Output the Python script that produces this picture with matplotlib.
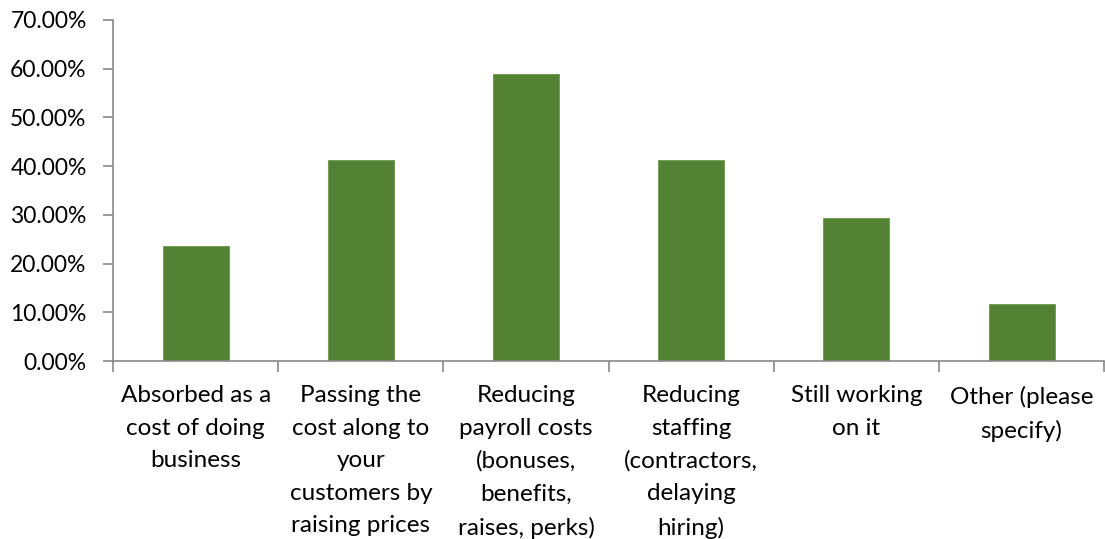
import matplotlib.pyplot as plt
import numpy as np
from matplotlib.ticker import PercentFormatter

categories = [
    "Absorbed as a\ncost of doing\nbusiness",
    "Passing the\ncost along to\nyour\ncustomers by\nraising prices",
    "Reducing\npayroll costs\n(bonuses,\nbenefits,\nraises, perks)",
    "Reducing\nstaffing\n(contractors,\ndelaying\nhiring)",
    "Still working\non it",
    "Other (please\nspecify)",
]
shares = [23.53, 41.18, 58.82, 41.18, 29.41, 11.76]

plt.rcParams['font.family'] = ['Lato', 'DejaVu Sans']
AXIS_GRAY = "#898989"

fig = plt.figure(figsize=(11.05, 5.39), dpi=100)
ax = fig.add_axes([0.1023, 0.330, 0.897, 0.633])

x = np.arange(len(categories))
ax.bar(x, shares, width=0.4, color="#548235", edgecolor="#6a9a4a", linewidth=0.6)

ax.set_xlim(-0.5, len(categories) - 0.5)
ax.set_ylim(0, 70)
ax.set_yticks(np.arange(0, 71, 10))
ax.yaxis.set_major_formatter(PercentFormatter(decimals=2))

# category labels centred under bars, tick marks on the boundaries
ax.set_xticks(x)
ax.set_xticklabels(categories, fontsize=17.5, linespacing=1.67, va="top")
ax.set_xticks(np.arange(-0.5, len(categories)), minor=True)
ax.tick_params(axis="x", which="major", length=0, pad=17.5)
ax.tick_params(axis="x", which="minor", length=8, color=AXIS_GRAY, width=1.2)
ax.tick_params(axis="y", length=7, color=AXIS_GRAY, width=1.2, labelsize=16.5, pad=12)

for side in ["top", "right"]:
    ax.spines[side].set_visible(False)
for side in ["left", "bottom"]:
    ax.spines[side].set_color(AXIS_GRAY)
    ax.spines[side].set_linewidth(1.2)

fig.savefig("out.png", dpi=100)
